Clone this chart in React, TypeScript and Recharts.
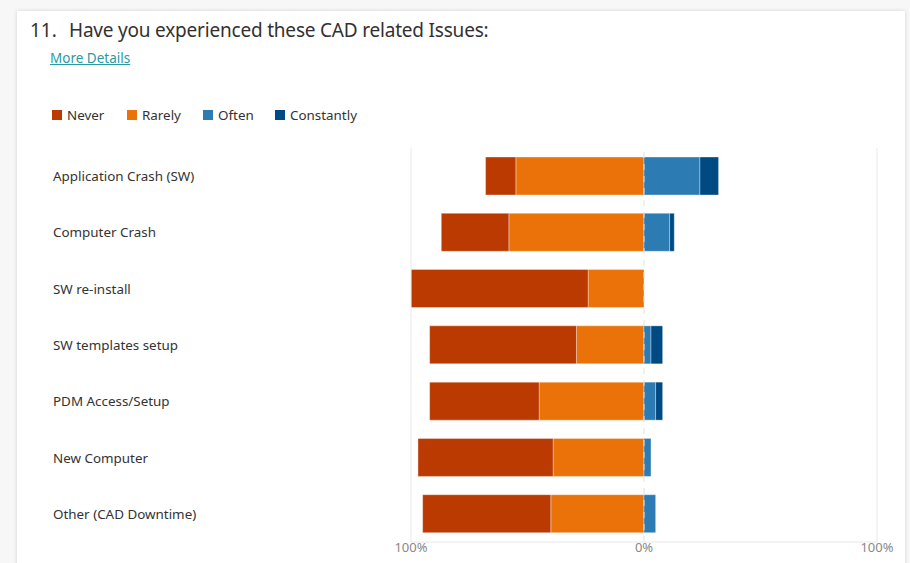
import React from 'react';
import {
  BarChart,
  Bar,
  XAxis,
  YAxis,
  ReferenceLine,
} from 'recharts';

const categories = [
  'Application Crash (SW)',
  'Computer Crash',
  'SW re-install',
  'SW templates setup',
  'PDM Access/Setup',
  'New Computer',
  'Other (CAD Downtime)',
];

// percent of respondents per answer
const never = [13, 29, 76, 63, 47, 58, 55];
const rarely = [55, 58, 24, 29, 45, 39, 40];
const often = [24, 11, 0, 3, 5, 3, 5];
const constantly = [8, 2, 0, 5, 3, 0, 0];

const xTicks = [-100, 0, 100];

const SERIES = [
  { key: 'Never', color: '#BA3A02', left: 52 },
  { key: 'Rarely', color: '#EB7208', left: 127 },
  { key: 'Often', color: '#2C7BB2', left: 203 },
  { key: 'Constantly', color: '#004A84', left: 275 },
];

const FONT = '"Segoe UI", "Noto Sans", "Open Sans", sans-serif';

// negative side stacks from 0 outward: Rarely first, then Never
const data = categories.map((name, i) => ({
  name,
  Never: -never[i],
  Rarely: -rarely[i],
  Often: often[i],
  Constantly: constantly[i],
}));

function CategoryTick({ y, payload }: any) {
  return (
    <text
      x={53}
      y={y}
      dy={5}
      textAnchor="start"
      fill="#333"
      fontSize={13.4}
      fontFamily={FONT}
    >
      {payload.value}
    </text>
  );
}

export default function App() {
  return (
    <div
      style={{
        position: 'absolute',
        left: 0,
        top: 0,
        width: 910,
        height: 563,
        background: '#f7f7f7',
        overflow: 'hidden',
        fontFamily: FONT,
      }}
    >
      {/* card */}
      <div
        style={{
          position: 'absolute',
          left: 17,
          top: 11,
          width: 888,
          height: 570,
          background: '#fff',
          boxShadow: '0 0 4px rgba(0,0,0,0.15)',
        }}
      />

      {/* header */}
      <div
        style={{
          position: 'absolute',
          left: 30,
          top: 17,
          fontSize: 19,
          color: '#323130',
          whiteSpace: 'nowrap',
        }}
      >
        11.
      </div>
      <div
        style={{
          position: 'absolute',
          left: 69,
          top: 17,
          fontSize: 19,
          letterSpacing: -0.2,
          color: '#323130',
          whiteSpace: 'nowrap',
        }}
      >
        Have you experienced these CAD related Issues:
      </div>
      <div
        style={{
          position: 'absolute',
          left: 50,
          top: 49,
          fontSize: 13.5,
          color: '#2a9a9e',
          textDecoration: 'underline',
        }}
      >
        More Details
      </div>

      {/* legend */}
      {SERIES.map((s) => (
        <div
          key={s.key}
          style={{
            position: 'absolute',
            left: s.left,
            top: 106,
            display: 'flex',
            alignItems: 'center',
            fontSize: 13.4,
            color: '#333',
            whiteSpace: 'nowrap',
          }}
        >
          <span
            style={{
              width: 10,
              height: 10,
              background: s.color,
              marginRight: 5,
              display: 'inline-block',
            }}
          />
          {s.key}
        </div>
      ))}

      {/* chart */}
      <div style={{ position: 'absolute', left: 0, top: 0 }}>
        <BarChart
          width={910}
          height={563}
          data={data}
          layout="vertical"
          stackOffset="sign"
          barSize={38}
          margin={{ top: 148, right: 33, bottom: 1, left: 0 }}
        >
          <ReferenceLine x={-100} stroke="#e8e8e8" />
          <ReferenceLine x={0} stroke="#e0e0e0" strokeDasharray="6 6" />
          <ReferenceLine x={100} stroke="#e8e8e8" />
          <XAxis
            type="number"
            domain={[-100, 100]}
            ticks={xTicks}
            tickFormatter={(v: number) => `${Math.abs(v)}%`}
            axisLine={{ stroke: '#e8e8e8' }}
            tickLine={false}
            tickSize={0}
            tickMargin={1}
            height={20}
            tick={{ fill: '#888', fontSize: 13, fontFamily: FONT }}
          />
          <YAxis
            type="category"
            dataKey="name"
            width={411}
            axisLine={false}
            tickLine={false}
            tick={<CategoryTick />}
          />
          <Bar dataKey="Rarely" stackId="a" fill="#EB7208" stroke="#fff" strokeOpacity={0.35} isAnimationActive={false} />
          <Bar dataKey="Never" stackId="a" fill="#BA3A02" stroke="#fff" strokeOpacity={0.35} isAnimationActive={false} />
          <Bar dataKey="Often" stackId="a" fill="#2C7BB2" stroke="#fff" strokeOpacity={0.35} isAnimationActive={false} />
          <Bar dataKey="Constantly" stackId="a" fill="#004A84" stroke="#fff" strokeOpacity={0.35} isAnimationActive={false} />
        </BarChart>
      </div>
    </div>
  );
}
